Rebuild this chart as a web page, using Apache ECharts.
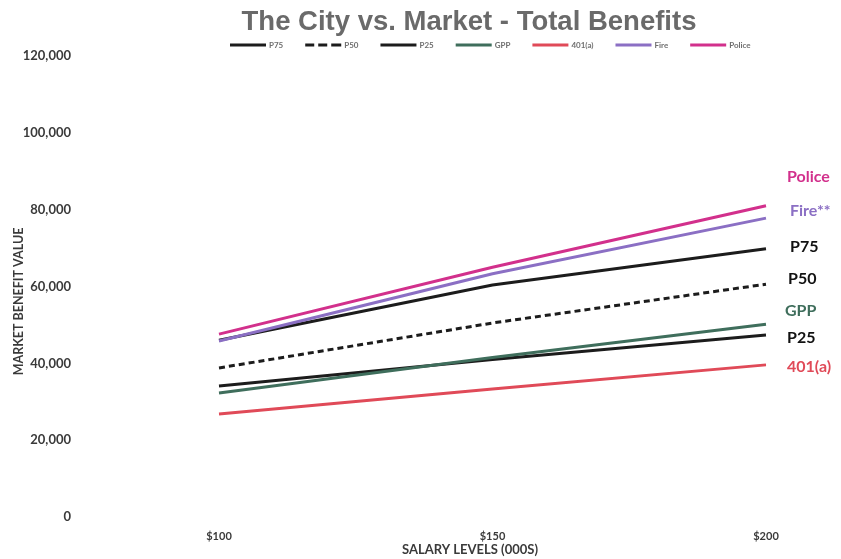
<!DOCTYPE html>
<html>
<head>
<meta charset="utf-8">
<script src="https://cdn.jsdelivr.net/npm/echarts@6/dist/echarts.min.js"></script>
<style>html,body{margin:0;padding:0;background:#fff}#c{width:841px;height:559px}</style>
</head>
<body>
<div id="c"></div>
<script>
const categories = ['$100', '$150', '$200'];
const yTicks = [0, 20000, 40000, 60000, 80000, 100000, 120000];
const p75 = [46000, 60400, 69800];
const p50 = [38800, 50500, 60600];
const p25 = [34100, 41000, 47400];
const gpp = [32300, 41500, 50200];
const a401 = [26800, 33300, 39600];
const fire = [45800, 63300, 77800];
const police = [47600, 65000, 81000];

const seriesDefs = [
  {name: 'P75', data: p75, color: '#1c1c1c', type: 'solid', label: 'P75', labelColor: '#111', off: [16, -2]},
  {name: 'P50', data: p50, color: '#1c1c1c', type: 'dashed', label: 'P50', labelColor: '#111', off: [14, -5]},
  {name: 'P25', data: p25, color: '#1c1c1c', type: 'solid', label: 'P25', labelColor: '#111', off: [13, 3]},
  {name: 'GPP', data: gpp, color: '#3f6e5c', type: 'solid', label: 'GPP', labelColor: '#3f6e5c', off: [11, -13]},
  {name: '401(a)', data: a401, color: '#e04a58', type: 'solid', label: '401(a)', labelColor: '#e04a58', off: [13, 2]},
  {name: 'Fire', data: fire, color: '#8b6fc4', type: 'solid', label: 'Fire**', labelColor: '#8b6fc4', off: [16, -7]},
  {name: 'Police', data: police, color: '#d2308c', type: 'solid', label: 'Police', labelColor: '#d2308c', off: [13, -29]}
];

const solidIcon = 'path://M0,0 L36,0 L36,3 L0,3 Z';
const dashedIcon = 'path://M0,0 L9,0 L9,3 L0,3 Z M13,0 L22,0 L22,3 L13,3 Z M26,0 L36,0 L36,3 L26,3 Z';

const chart = echarts.init(document.getElementById('c'), null, {renderer: 'canvas'});
chart.setOption({
  animation: false,
  backgroundColor: '#fff',
  title: {
    text: 'The City vs. Market - Total Benefits',
    left: 464, textAlign: 'center', top: 3,
    textStyle: {fontFamily: 'Liberation Sans', fontWeight: 'bold', fontSize: 27.5, color: '#6a6a6a'}
  },
  legend: {
    top: 36, left: 225,
    itemWidth: 36, itemHeight: 3, itemGap: 22,
    textStyle: {fontFamily: 'Lato', fontSize: 8, fontWeight: 'bold', color: '#6f6f6f', padding: [0, 0, 0, -2]},
    data: seriesDefs.map(s => ({name: s.name, icon: s.type === 'dashed' ? dashedIcon : solidIcon}))
  },
  grid: {left: 219, right: 75, top: 56, bottom: 42, outerBoundsMode: 'none', containLabel: false},
  xAxis: {
    type: 'category', data: categories, boundaryGap: false,
    axisLine: {show: false}, axisTick: {show: false},
    axisLabel: {fontFamily: 'Lato', fontWeight: 'bold', fontSize: 11, color: '#3a3a3a', margin: 14},
    name: 'SALARY LEVELS (000S)', nameLocation: 'middle', nameGap: 26, nameMoveOverlap: false,
    nameTextStyle: {fontFamily: 'Lato', fontWeight: 'bold', fontSize: 13, color: '#3a3a3a', padding: [0, 45, 0, 0]}
  },
  yAxis: {
    type: 'value', min: yTicks[0], max: yTicks[yTicks.length - 1], interval: yTicks[1] - yTicks[0],
    splitLine: {show: false}, axisLine: {show: false}, axisTick: {show: false},
    axisLabel: {
      fontFamily: 'Lato', fontWeight: 'bold', fontSize: 13, color: '#3a3a3a', margin: 148,
      formatter: v => v.toLocaleString('en-US')
    },
    name: 'MARKET BENEFIT VALUE', nameLocation: 'middle', nameGap: 194, nameRotate: 90, nameMoveOverlap: false,
    nameTextStyle: {fontFamily: 'Lato', fontWeight: 'bold', fontSize: 12.5, color: '#3a3a3a', padding: [0, 30, 0, 0]}
  },
  series: seriesDefs.map(s => ({
    name: s.name, type: 'line', data: s.data, symbol: 'none', smooth: false,
    color: s.color,
    lineStyle: {width: 3, color: s.color, type: s.type === 'dashed' ? [6, 4] : 'solid'},
    endLabel: {
      show: true, formatter: () => s.label, offset: s.off,
      fontFamily: 'Lato', fontWeight: 'bold', fontSize: 16, color: s.labelColor
    }
  }))
});
</script>
</body>
</html>
